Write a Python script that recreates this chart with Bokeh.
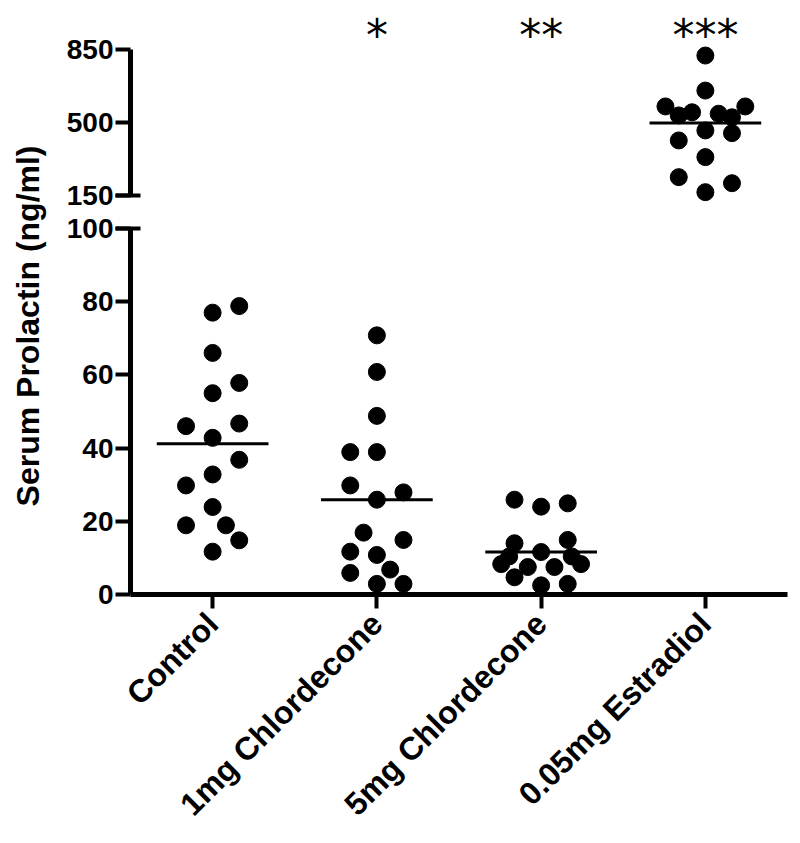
import math
from bokeh.plotting import figure
from bokeh.layouts import row, column
from bokeh.models import Range1d, FixedTicker, Label, ColumnDataSource
from bokeh.embed import file_html
from bokeh.resources import INLINE
from bokeh.core.properties import value

# ---------------- data ----------------
categories = ["Control", "1mg Chlordecone", "5mg Chlordecone", "0.05mg Estradiol"]

control_vals = [77.0, 78.8, 66.0, 57.8, 55.0, 46.0, 46.7, 42.8, 36.8, 32.8, 29.8, 23.9, 18.9, 18.9, 14.8, 11.7]
control_slot = [0, 2, 0, 2, 0, -2, 2, 0, 2, 0, -2, 0, -2, 1, 2, 0]

chl1_vals = [70.8, 60.8, 48.8, 38.9, 38.9, 29.8, 27.9, 25.9, 16.9, 14.9, 11.7, 10.8, 6.8, 5.9, 2.9, 2.9]
chl1_slot = [0, 0, 0, -2, 0, -2, 2, 0, -1, 2, -2, 0, 1, -2, 0, 2]

chl5_vals = [25.9, 24.0, 24.9, 14.0, 14.9, 11.6, 10.4, 8.3, 4.7, 7.5, 7.5, 2.5, 2.9, 10.4, 8.3]
chl5_slot = [-2, 0, 2, -2, 2, 0, -2.4, -3, -2, -1, 1, 0, 2, 2.3, 3]

estr_vals = [821, 653, 577, 577, 534, 549, 542, 525, 462, 449, 414, 334, 238, 209, 166]
estr_slot = [0, 0, -3, 3, -2, -1, 1, 2, 0, 2, -2, 0, -2, 2, 0]

group_means = [41.2, 25.9, 11.6, 497]
stars = ["", "*", "**", "***"]

lower_ticks = [0, 20, 40, 60, 80, 100]
upper_ticks = [150, 500, 850]
lower_bounds = (0, 100)
upper_bounds = (150, 850)

# ---------------- layout constants ----------------
SLOT = 0.081      # jitter step in category units
HALF = 0.34       # half-width of mean bar
FONT = "Liberation Sans"
STAR_Y = 918

groups = [(control_vals, control_slot), (chl1_vals, chl1_slot),
          (chl5_vals, chl5_slot), (estr_vals, estr_slot)]

lo = dict(x=[], y=[])
hi = dict(x=[], y=[])
for i, (vals, slots) in enumerate(groups, start=1):
    for v, s in zip(vals, slots):
        d = lo if v <= lower_bounds[1] else hi
        d["x"].append(i + s * SLOT)
        d["y"].append(v)

mlo = dict(x0=[], x1=[], y=[])
mhi = dict(x0=[], x1=[], y=[])
for i, m in enumerate(group_means, start=1):
    d = mlo if m <= lower_bounds[1] else mhi
    d["x0"].append(i - HALF)
    d["x1"].append(i + HALF)
    d["y"].append(m)

xr = Range1d(0.5, 4.5)


def style_y(ax, ticks, minor, bounds):
    ax.ticker = FixedTicker(ticks=ticks, minor_ticks=minor)
    ax.bounds = bounds
    ax.axis_line_width = 5
    ax.axis_line_color = "black"
    ax.major_tick_line_width = 4
    ax.major_tick_out = 15
    ax.major_tick_in = 0
    ax.minor_tick_line_width = 4
    ax.minor_tick_out = 15
    ax.minor_tick_in = 10
    ax.major_label_text_font = FONT
    ax.major_label_text_font_style = "bold"
    ax.major_label_text_font_size = "28px"
    ax.major_label_text_color = "black"
    ax.major_label_standoff = 2


# ---------------- upper panel ----------------
top = figure(width=734, height=211, x_range=xr, y_range=Range1d(73.3, 1084.9),
             output_backend="svg", toolbar_location=None, x_axis_location=None,
             min_border_left=72, min_border_right=5, min_border_top=0, min_border_bottom=0,
             outline_line_color=None, background_fill_color="white")
top.grid.visible = False
style_y(top.yaxis[0], upper_ticks, [upper_bounds[0]], upper_bounds)
top.scatter(x="x", y="y", source=ColumnDataSource(hi), size=17, color="black")
top.segment(x0="x0", x1="x1", y0="y", y1="y", source=ColumnDataSource(mhi),
            line_width=3, line_color="black")
star_src = ColumnDataSource(dict(x=[2, 3, 4], y=[STAR_Y] * 3, t=stars[1:]))
top.text(x="x", y="y", text="t", source=star_src, text_font=value("DejaVu Sans"),
         text_font_size="44px", text_align="center", text_baseline="alphabetic",
         text_color="black")

# ---------------- lower panel ----------------
bot = figure(width=734, height=629, x_range=xr, y_range=Range1d(0, 104.64),
             output_backend="svg", toolbar_location=None,
             min_border_left=72, min_border_right=5, min_border_top=0, min_border_bottom=246,
             outline_line_color=None, background_fill_color="white")
bot.grid.visible = False
style_y(bot.yaxis[0], lower_ticks, [lower_bounds[1]], lower_bounds)
bx = bot.xaxis[0]
bx.ticker = FixedTicker(ticks=[1, 2, 3, 4])
bx.major_label_overrides = {i + 1: c for i, c in enumerate(categories)}
bx.major_label_orientation = math.pi / 4
bx.axis_line_width = 5
bx.axis_line_color = "black"
bx.major_tick_out = 14
bx.major_tick_in = 0
bx.major_tick_line_width = 4
bx.minor_tick_line_color = None
bx.major_label_text_font = FONT
bx.major_label_text_font_style = "bold"
bx.major_label_text_font_size = "32px"
bx.major_label_text_color = "black"
bx.major_label_standoff = 10
bot.scatter(x="x", y="y", source=ColumnDataSource(lo), size=17, color="black")
bot.segment(x0="x0", x1="x1", y0="y", y1="y", source=ColumnDataSource(mlo),
            line_width=3, line_color="black")

# ---------------- y-axis title panel ----------------
lab = figure(width=58, height=840, x_range=Range1d(0, 58), y_range=Range1d(0, 840),
             output_backend="svg", toolbar_location=None, min_border=0,
             outline_line_color=None, x_axis_location=None, y_axis_location=None)
lab.grid.visible = False
lab.add_layout(Label(x=27, y=519, text="Serum Prolactin  (ng/ml)", angle=math.pi / 2,
                     text_align="center", text_baseline="middle", text_font=FONT,
                     text_font_style="bold", text_font_size="32px", text_color="black"))

layout = row(lab, column(top, bot))
open("out.html", "w").write(file_html(layout, INLINE))
